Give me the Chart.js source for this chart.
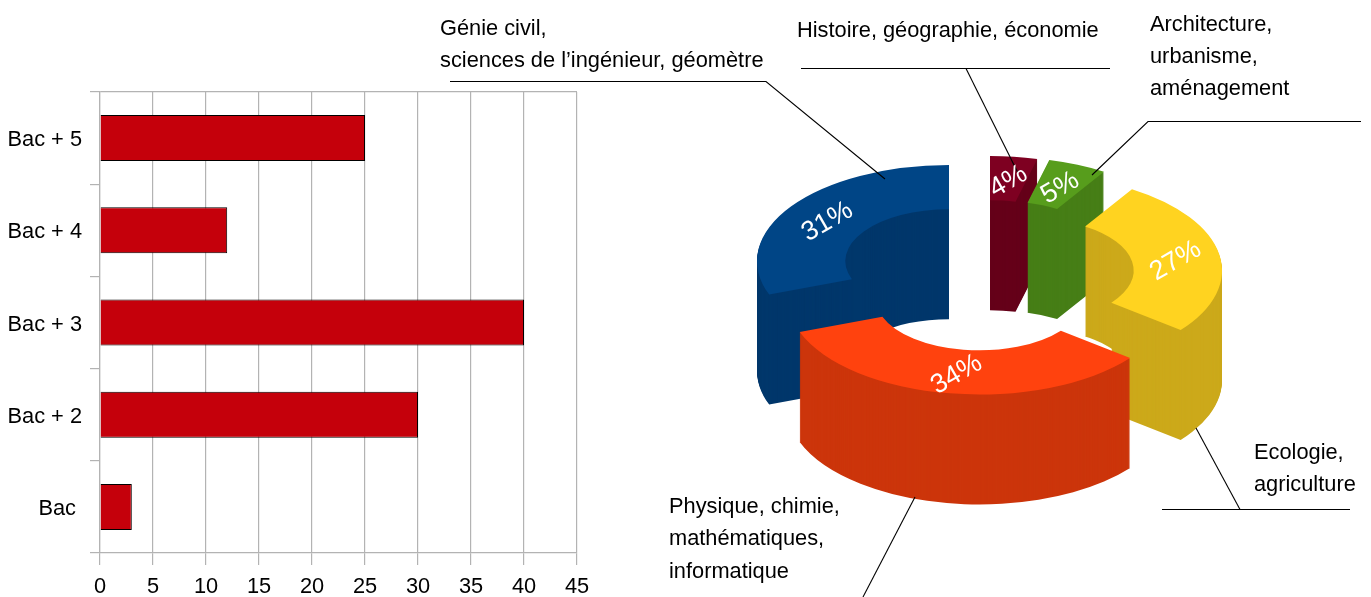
<!DOCTYPE html>
<html lang="fr">
<head>
<meta charset="utf-8">
<title>Niveaux et filières</title>
<script src="https://cdn.jsdelivr.net/npm/chart.js@4"></script>
<style>
  html, body { margin: 0; padding: 0; background: #fff; }
  #wrap { position: relative; width: 1371px; height: 597px; overflow: hidden; }
  canvas { position: absolute; left: 0; top: 0; }
</style>
</head>
<body>
<div id="wrap">
  <canvas id="levels" width="640" height="597"></canvas>
  <canvas id="fields" width="1371" height="597"></canvas>
</div>
<script>
const levelLabels = ['Bac + 5', 'Bac + 4', 'Bac + 3', 'Bac + 2', 'Bac '];
const levelValues = [25, 12, 40, 30, 3];

const fieldLabels = ['Histoire', 'Architecture', 'Ecologie', 'Physique', 'Génie civil'];
const fieldValues = [4, 5, 27, 34, 31];
const fieldColors = ['#7E0021', '#579D1C', '#FFD320', '#FF420E', '#004586'];
const wallColors = ['#650019', '#467E16', '#CCA91A', '#CC350B', '#00376B'];

// exploded position of each slice on the page
const sliceCentres = [[990, 252], [1002, 253], [1030, 270.5], [979.5, 298.5], [949, 261]];
const drawOrder = [0, 1, 4, 2, 3];
const tilt = 0.5;
const depth = 110;

const FONT = '"Liberation Sans", Arial, sans-serif';
const TEXT_SIZE = 21.8;

const captions = [
  { x: 440, y: 35, text: 'Génie civil,' },
  { x: 440, y: 67, text: 'sciences de l’ingénieur, géomètre' },
  { x: 797, y: 37, text: 'Histoire, géographie, économie' },
  { x: 1150, y: 31, text: 'Architecture,' },
  { x: 1150, y: 63, text: 'urbanisme,' },
  { x: 1150, y: 95, text: 'aménagement' },
  { x: 1254, y: 459, text: 'Ecologie,' },
  { x: 1254, y: 491, text: 'agriculture' },
  { x: 669, y: 513, text: 'Physique, chimie,' },
  { x: 669, y: 545, text: 'mathématiques,' },
  { x: 669, y: 578, text: 'informatique' },
];

const leaders = [
  [[450, 81.5], [766, 81.5], [885, 179]],
  [[801, 68.5], [1110, 68.5]],
  [[966, 68.5], [1018, 173]],
  [[1361, 121.5], [1148, 121.5], [1092, 175]],
  [[1162, 509.5], [1350, 509.5]],
  [[1240, 509.5], [1196, 428]],
  [[915, 497], [863, 597]],
];

new Chart(document.getElementById('levels'), {
  type: 'bar',
  data: {
    labels: levelLabels,
    datasets: [{
      data: levelValues,
      backgroundColor: '#C5000B',
      borderColor: '#000',
      borderWidth: 1,
      inflateAmount: 0,
      barThickness: 46,
    }],
  },
  options: {
    indexAxis: 'y',
    responsive: false,
    animation: false,
    layout: { padding: { top: 92, right: 63 } },
    plugins: { legend: { display: false }, tooltip: { enabled: false } },
    scales: {
      x: {
        min: 0,
        max: 45,
        ticks: { stepSize: 5, color: '#000', font: { family: FONT, size: TEXT_SIZE }, padding: 9, maxRotation: 0 },
        grid: { color: '#B3B3B3', tickColor: '#B3B3B3', tickLength: 12, lineWidth: 1.2 },
        border: { color: '#B3B3B3', width: 1.2 },
        afterFit: (axis) => { axis.height = 44; },
      },
      y: {
        ticks: { color: '#000', font: { family: FONT, size: TEXT_SIZE }, padding: 8, labelOffset: 2 },
        grid: {
          offset: true,
          tickLength: 10,
          lineWidth: 1.2,
          tickColor: '#B3B3B3',
          color: (c) => (c.index === 0 || c.index === levelLabels.length ? '#B3B3B3' : 'transparent'),
        },
        border: { color: '#B3B3B3', width: 1.2 },
        afterFit: (axis) => { axis.width = 100; },
      },
    },
  },
});

const exploded3d = {
  id: 'exploded3d',
  beforeDatasetDraw() {
    return false; // slices are painted below, back to front
  },
  afterDatasetsDraw(chart) {
    const { ctx } = chart;
    const arcs = chart.getDatasetMeta(0).data;

    const place = (el, i, drop) => {
      const [cx, cy] = sliceCentres[i];
      ctx.translate(cx, cy + drop);
      ctx.scale(1, tilt);
      ctx.translate(-el.x, -el.y);
    };

    drawOrder.forEach((i) => {
      const el = arcs[i];
      ctx.save();
      ctx.fillStyle = wallColors[i];
      for (let d = depth; d > 0; d--) {
        ctx.save();
        place(el, i, d);
        ctx.beginPath();
        ctx.arc(el.x, el.y, el.outerRadius, el.startAngle, el.endAngle);
        ctx.arc(el.x, el.y, el.innerRadius, el.endAngle, el.startAngle, true);
        ctx.closePath();
        ctx.fill();
        ctx.restore();
      }
      ctx.restore();

      ctx.save();
      place(el, i, 0);
      el.draw(ctx);
      ctx.restore();
    });

    // leader lines
    ctx.save();
    ctx.strokeStyle = '#000';
    ctx.lineWidth = 1.1;
    leaders.forEach((points) => {
      ctx.beginPath();
      points.forEach(([x, y], n) => (n ? ctx.lineTo(x, y) : ctx.moveTo(x, y)));
      ctx.stroke();
    });
    ctx.restore();

    // percentages on the slices
    ctx.save();
    ctx.fillStyle = '#fff';
    ctx.font = `27px ${FONT}`;
    ctx.textAlign = 'center';
    ctx.textBaseline = 'middle';
    arcs.forEach((el, i) => {
      const mid = el.getCenterPoint();
      const x = sliceCentres[i][0] + (mid.x - el.x);
      const y = sliceCentres[i][1] + (mid.y - el.y) * tilt + 3;
      ctx.save();
      ctx.translate(x, y);
      ctx.rotate(-Math.PI / 6);
      ctx.fillText(`${fieldValues[i]}%`, 0, 0);
      ctx.restore();
    });
    ctx.restore();

    // captions
    ctx.save();
    ctx.fillStyle = '#000';
    ctx.font = `${TEXT_SIZE}px ${FONT}`;
    ctx.textBaseline = 'alphabetic';
    captions.forEach((c) => ctx.fillText(c.text, c.x, c.y));
    ctx.restore();
  },
};

new Chart(document.getElementById('fields'), {
  type: 'doughnut',
  data: {
    labels: fieldLabels,
    datasets: [{ data: fieldValues, backgroundColor: fieldColors, borderWidth: 0 }],
  },
  options: {
    responsive: false,
    animation: false,
    radius: 192,
    cutout: '54%',
    rotation: 0,
    plugins: { legend: { display: false }, tooltip: { enabled: false } },
  },
  plugins: [exploded3d],
});
</script>
</body>
</html>
